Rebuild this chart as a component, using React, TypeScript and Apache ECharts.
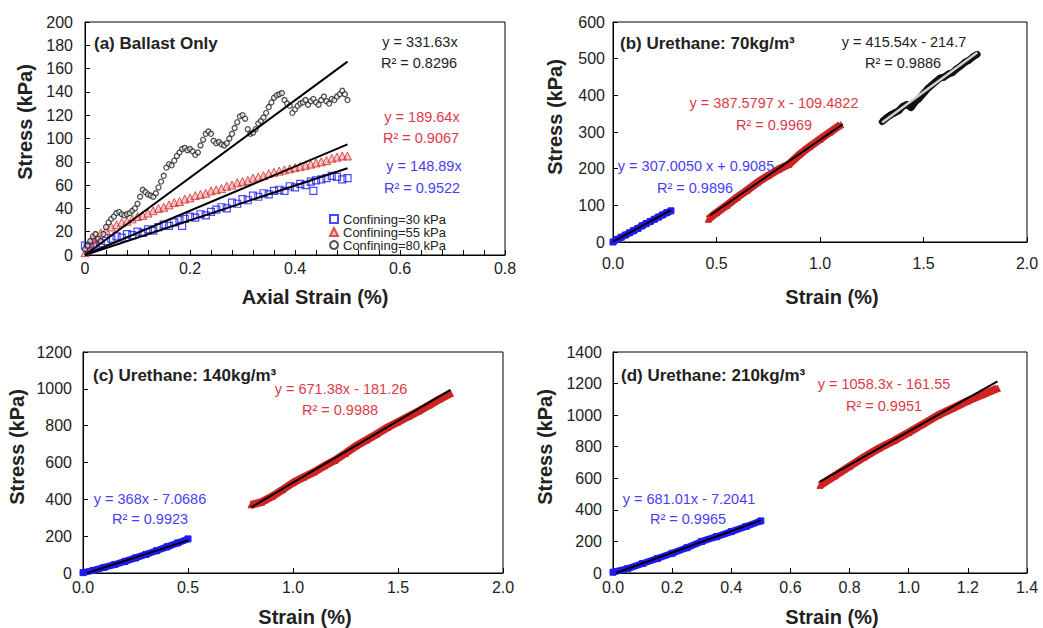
import React, { useEffect, useRef } from "react";
import * as echarts from "echarts";

const FONT = '"Liberation Sans", Arial, Helvetica, sans-serif';

// ---------- (a) Ballast only ----------
const aTicksX = [0, 0.2, 0.4, 0.6, 0.8];
const aBlue30: [number, number][] = [
  [0, 8], [0.005, 6], [0.01, 7], [0.015, 9], [0.02, 8], [0.03, 10], [0.04, 12], [0.05, 14], [0.06, 16], [0.07, 15],
  [0.08, 18], [0.09, 17], [0.1, 20], [0.11, 19], [0.12, 22], [0.13, 21], [0.14, 24], [0.15, 26], [0.16, 25], [0.17, 28],
  [0.18, 30], [0.185, 25], [0.19, 31], [0.2, 33], [0.21, 32], [0.22, 35], [0.23, 34], [0.24, 37], [0.25, 39], [0.26, 41],
  [0.27, 40], [0.28, 45], [0.29, 44], [0.3, 48], [0.31, 47], [0.32, 51], [0.33, 50], [0.34, 53], [0.35, 52], [0.36, 55],
  [0.37, 56], [0.38, 55], [0.39, 59], [0.4, 58], [0.41, 61], [0.42, 60], [0.43, 63], [0.435, 55], [0.44, 64], [0.45, 65],
  [0.46, 66], [0.47, 68], [0.48, 67], [0.49, 65], [0.5, 66],
];
const aRed55: [number, number][] = [
  [0, 2], [0.005, 6], [0.01, 10], [0.015, 14], [0.02, 17], [0.025, 13], [0.03, 19], [0.04, 21], [0.05, 24], [0.06, 26],
  [0.07, 28], [0.08, 29], [0.09, 31], [0.1, 33], [0.11, 34], [0.12, 36], [0.13, 38], [0.14, 40], [0.15, 41], [0.16, 43],
  [0.17, 45], [0.18, 46], [0.19, 48], [0.2, 49], [0.21, 51], [0.22, 52], [0.23, 53], [0.24, 55], [0.25, 56], [0.26, 57],
  [0.27, 59], [0.28, 60], [0.29, 62], [0.3, 63], [0.31, 64], [0.32, 66], [0.33, 67], [0.34, 68], [0.35, 70], [0.36, 71],
  [0.37, 72], [0.38, 73], [0.39, 74], [0.4, 75], [0.41, 76], [0.42, 77], [0.43, 78], [0.44, 79], [0.45, 80], [0.46, 81],
  [0.47, 83], [0.48, 84], [0.49, 85], [0.5, 85],
];
const aBlack80: [number, number][] = [
  [0, 5], [0.005, 8], [0.01, 12], [0.015, 16], [0.02, 18], [0.025, 14], [0.03, 12], [0.035, 18], [0.04, 24], [0.045, 28],
  [0.05, 31], [0.055, 33], [0.06, 36], [0.065, 37], [0.07, 35], [0.075, 34], [0.08, 35], [0.085, 36], [0.09, 38], [0.095, 40],
  [0.1, 44], [0.105, 50], [0.11, 56], [0.115, 54], [0.12, 52], [0.125, 51], [0.13, 50], [0.135, 53], [0.14, 58], [0.145, 63],
  [0.15, 68], [0.155, 75], [0.16, 78], [0.165, 77], [0.17, 81], [0.175, 85], [0.18, 88], [0.185, 91], [0.19, 92], [0.195, 90],
  [0.2, 91], [0.205, 89], [0.21, 86], [0.215, 88], [0.22, 94], [0.225, 99], [0.23, 104], [0.235, 106], [0.24, 104], [0.245, 98],
  [0.25, 96], [0.255, 97], [0.26, 95], [0.265, 94], [0.27, 96], [0.275, 100], [0.28, 104], [0.285, 109], [0.29, 114], [0.295, 119],
  [0.3, 120], [0.305, 117], [0.31, 108], [0.315, 104], [0.32, 105], [0.325, 108], [0.33, 113], [0.335, 115], [0.34, 118], [0.345, 122],
  [0.35, 127], [0.355, 131], [0.36, 135], [0.365, 137], [0.37, 138], [0.375, 139], [0.38, 133], [0.385, 130], [0.39, 128], [0.395, 122],
  [0.4, 125], [0.405, 128], [0.41, 130], [0.415, 131], [0.42, 133], [0.425, 129], [0.43, 132], [0.435, 134], [0.44, 131], [0.445, 129],
  [0.45, 133], [0.455, 136], [0.46, 132], [0.465, 130], [0.47, 134], [0.475, 133], [0.48, 136], [0.485, 138], [0.49, 141], [0.495, 138],
  [0.5, 133],
];
const aFitBlack: [number, number][] = [[0, 0], [0.5, 166]];
const aFitRed: [number, number][] = [[0, 0], [0.5, 95]];
const aFitBlue: [number, number][] = [[0, 0], [0.5, 74.5]];
const aLegend = ["Confining=30 kPa", "Confining=55 kPa", "Confining=80 kPa"];

// ---------- (b) Urethane 70 ----------
const bBlue: [number, number][] = [
  [0, 0], [0.02, 7], [0.04, 13], [0.06, 19], [0.08, 25], [0.1, 31], [0.12, 37], [0.14, 44], [0.16, 50], [0.18, 56],
  [0.2, 62], [0.22, 68], [0.24, 74], [0.26, 80], [0.28, 85],
];
const bRed: [number, number][] = [
  [0.46, 62], [0.5, 80], [0.55, 100], [0.6, 122], [0.65, 142], [0.7, 163], [0.75, 181], [0.8, 198], [0.85, 212],
  [0.9, 238], [0.95, 260], [1.0, 280], [1.05, 300], [1.1, 320],
];
const bBlack: [number, number][] = [
  [1.3, 328], [1.32, 338], [1.34, 346], [1.36, 352], [1.38, 358], [1.4, 370], [1.42, 375], [1.44, 366], [1.46, 382],
  [1.48, 392], [1.5, 405], [1.52, 418], [1.54, 428], [1.56, 438], [1.58, 447], [1.6, 450], [1.62, 458], [1.64, 462],
  [1.66, 472], [1.68, 480], [1.7, 490], [1.72, 496], [1.74, 505], [1.76, 512],
];
const bFitBlue: [number, number][] = [[0, 1], [0.28, 87]];
const bFitRed: [number, number][] = [[0.47, 73], [1.11, 321]];
const bFitBlack: [number, number][] = [[1.3, 326], [1.76, 517]];

// ---------- (c) Urethane 140 ----------
const cBlue: [number, number][] = [
  [0, 2], [0.05, 14], [0.1, 30], [0.15, 46], [0.2, 63], [0.25, 82], [0.3, 101], [0.35, 121], [0.4, 142], [0.45, 163], [0.5, 185],
];
const cRed: [number, number][] = [
  [0.8, 370], [0.85, 385], [0.9, 415], [0.95, 452], [1.0, 490], [1.05, 520], [1.1, 548], [1.15, 582], [1.2, 612],
  [1.25, 650], [1.3, 690], [1.35, 722], [1.4, 755], [1.45, 790], [1.5, 820], [1.55, 850], [1.6, 880], [1.65, 912],
  [1.7, 945], [1.75, 975],
];
const cFitBlue: [number, number][] = [[0.02, 0], [0.5, 177]];
const cFitRed: [number, number][] = [[0.8, 356], [1.75, 994]];

// ---------- (d) Urethane 210 ----------
const dBlue: [number, number][] = [
  [0, 5], [0.05, 28], [0.1, 60], [0.15, 92], [0.2, 125], [0.25, 160], [0.3, 200], [0.35, 230], [0.4, 262], [0.45, 295], [0.5, 330],
];
const dRed: [number, number][] = [
  [0.7, 555], [0.75, 615], [0.8, 675], [0.85, 735], [0.9, 790], [0.95, 838], [1.0, 890], [1.05, 945], [1.1, 1000],
  [1.15, 1045], [1.2, 1090], [1.25, 1130], [1.3, 1170],
];
const dFitBlue: [number, number][] = [[0.01, 0], [0.5, 333]];
const dFitRed: [number, number][] = [[0.7, 579], [1.3, 1214]];

const BLUE = "#1f1af0";
const RED = "#cf2323";
const BLACK = "#111111";
const TXT = "#222222";
const TXT_RED = "#dc3a4c";
const TXT_BLUE = "#4a3ef2";

function xAxis(gi: number, max: number, interval: number, margin: number, fmt: (v: number) => string, minor = false): any {
  return {
    type: "value", gridIndex: gi, min: 0, max, interval,
    axisLine: { show: true, onZero: false, lineStyle: { color: "#000", width: 1 } },
    axisTick: { show: true, inside: true, length: 5, lineStyle: { color: "#000" } },
    minorTick: minor ? { show: true, splitNumber: 5, length: 5, lineStyle: { color: "#000" } } : { show: false },
    splitLine: { show: false },
    axisLabel: { color: TXT, fontSize: 16, fontFamily: FONT, margin, formatter: fmt },
  };
}
function yAxis(gi: number, max: number, interval: number, margin: number): any {
  return {
    type: "value", gridIndex: gi, min: 0, max, interval,
    axisLine: { show: true, onZero: false, lineStyle: { color: "#000", width: 1 } },
    axisTick: { show: true, inside: true, length: 5, lineStyle: { color: "#000" } },
    splitLine: { show: false },
    axisLabel: { color: TXT, fontSize: 16, fontFamily: FONT, margin, formatter: (v: number) => String(v) },
  };
}
function band(data: [number, number][], gi: number, color: string, symbol: string, size: number, width = 7): any {
  return {
    type: "line", xAxisIndex: gi, yAxisIndex: gi, data, symbol, symbolSize: size, showSymbol: true,
    lineStyle: { color, width }, itemStyle: { color, borderColor: color }, z: 2, silent: true,
  };
}
function fit(data: [number, number][], gi: number, color: string, width = 2): any {
  return {
    type: "line", xAxisIndex: gi, yAxisIndex: gi, data, symbol: "none",
    lineStyle: { color, width }, z: 4, silent: true,
  };
}
function txt(text: string, x: number, y: number, color: string, size: number, opts: any = {}): any {
  return {
    type: "text", x, y, rotation: opts.rotation || 0, z: 10,
    style: {
      text, fill: color, fontSize: size, fontFamily: FONT, fontWeight: opts.bold ? "bold" : "normal",
      textAlign: opts.align || "center", textVerticalAlign: "middle",
    },
  };
}

const f1 = (v: number) => v.toFixed(1);
const fa = (v: number) => (v === 0 ? "0" : String(Math.round(v * 10) / 10));

export default function App() {
  const ref = useRef<HTMLDivElement>(null);
  useEffect(() => {
    if (!ref.current) return;
    const chart = echarts.init(ref.current, null, { renderer: "svg" });
    const gridBase = { show: true, borderColor: "#000", borderWidth: 1, backgroundColor: "transparent", containLabel: false };
    const option: any = {
      animation: false,
      backgroundColor: "#fff",
      grid: [
        { ...gridBase, left: 85, top: 22, width: 420, height: 233 },
        { ...gridBase, left: 613, top: 22, width: 414, height: 220 },
        { ...gridBase, left: 83, top: 352, width: 420, height: 221 },
        { ...gridBase, left: 613, top: 352, width: 414, height: 221 },
      ],
      xAxis: [
        xAxis(0, aTicksX[aTicksX.length - 1], 0.2, 5, fa, true),
        xAxis(1, 2, 0.5, 13, f1),
        xAxis(2, 2, 0.5, 6, f1),
        xAxis(3, 1.4, 0.2, 6, f1),
      ],
      yAxis: [yAxis(0, 200, 20, 12), yAxis(1, 600, 100, 8), yAxis(2, 1200, 200, 11), yAxis(3, 1400, 200, 11)],
      legend: {
        data: aLegend, orient: "vertical", left: 329, top: 212.5, padding: 0, itemWidth: 8, itemHeight: 8, itemGap: 0,
        itemTextGap: 10, textStyle: { fontSize: 13, lineHeight: 13, fontFamily: FONT, color: TXT }, selectedMode: false,
      },
      series: [
        {
          name: aLegend[0], type: "scatter", xAxisIndex: 0, yAxisIndex: 0, data: aBlue30, symbol: "rect", symbolSize: 7,
          itemStyle: { color: "rgba(255,255,255,0)", borderColor: BLUE, borderWidth: 1.2 }, z: 2,
        },
        {
          name: aLegend[1], type: "scatter", xAxisIndex: 0, yAxisIndex: 0, data: aRed55, symbol: "triangle", symbolSize: 8,
          itemStyle: { color: "rgba(230,90,90,0.45)", borderColor: "#d42a2a", borderWidth: 1 }, z: 2,
        },
        {
          name: aLegend[2], type: "scatter", xAxisIndex: 0, yAxisIndex: 0, data: aBlack80, symbol: "circle", symbolSize: 5,
          itemStyle: { color: "rgba(255,255,255,0.7)", borderColor: "#222", borderWidth: 1.3 }, z: 2,
        },
        fit(aFitBlack, 0, "#000"),
        fit(aFitRed, 0, "#000"),
        fit(aFitBlue, 0, "#000"),

        band(bBlue, 1, BLUE, "rect", 6),
        band(bRed, 1, RED, "triangle", 6, 8),
        band(bBlack, 1, BLACK, "circle", 6),
        fit(bFitBlue, 1, "#000"),
        fit(bFitRed, 1, "#000"),
        fit(bFitBlack, 1, "#d0d0d0", 2.5),

        band(cBlue, 2, BLUE, "rect", 6),
        band(cRed, 2, RED, "triangle", 6, 8),
        fit(cFitBlue, 2, "#000"),
        fit(cFitRed, 2, "#000"),

        band(dBlue, 3, BLUE, "rect", 6),
        band(dRed, 3, RED, "triangle", 6, 8),
        fit(dFitBlue, 3, "#000"),
        fit(dFitRed, 3, "#000"),
      ],
      graphic: [
        // axis names
        txt("Axial Strain (%)", 315, 297, TXT, 20, { bold: true }),
        txt("Stress (kPa)", 25, 122, TXT, 20, { bold: true, rotation: Math.PI / 2 }),
        txt("Strain (%)", 832, 297, TXT, 20, { bold: true }),
        txt("Stress (kPa)", 555, 117, TXT, 20, { bold: true, rotation: Math.PI / 2 }),
        txt("Strain (%)", 305, 617, TXT, 20, { bold: true }),
        txt("Stress (kPa)", 17, 447, TXT, 20, { bold: true, rotation: Math.PI / 2 }),
        txt("Strain (%)", 832, 617, TXT, 20, { bold: true }),
        txt("Stress (kPa)", 545, 447, TXT, 20, { bold: true, rotation: Math.PI / 2 }),
        // titles
        txt("(a) Ballast Only", 94, 43, TXT, 17, { bold: true, align: "left" }),
        txt("(b) Urethane: 70kg/m³", 620, 43, TXT, 17, { bold: true, align: "left" }),
        txt("(c) Urethane: 140kg/m³", 93, 375, TXT, 17, { bold: true, align: "left" }),
        txt("(d) Urethane: 210kg/m³", 621, 375, TXT, 17, { bold: true, align: "left" }),
        // (a) equations
        txt("y = 331.63x", 420, 42, TXT, 14.5),
        txt("R² = 0.8296", 419, 63, TXT, 14.5),
        txt("y = 189.64x", 422, 117, TXT_RED, 14.5),
        txt("R² = 0.9067", 421, 138, TXT_RED, 14.5),
        txt("y = 148.89x", 424, 166, TXT_BLUE, 14.5),
        txt("R² = 0.9522", 422, 188, TXT_BLUE, 14.5),
        // (b)
        txt("y = 415.54x - 214.7", 904, 42, TXT, 14.5),
        txt("R² = 0.9886", 903, 63, TXT, 14.5),
        txt("y = 387.5797 x - 109.4822", 774, 103, TXT_RED, 14.5),
        txt("R² = 0.9969", 774, 125, TXT_RED, 14.5),
        txt("y = 307.0050 x + 0.9085", 696, 166, TXT_BLUE, 14.5),
        txt("R² = 0.9896", 695, 188, TXT_BLUE, 14.5),
        // (c)
        txt("y = 671.38x - 181.26", 341, 389, TXT_RED, 14.5),
        txt("R² = 0.9988", 340, 410, TXT_RED, 14.5),
        txt("y = 368x - 7.0686", 150, 499, TXT_BLUE, 14.5),
        txt("R² = 0.9923", 150, 519, TXT_BLUE, 14.5),
        // (d)
        txt("y = 1058.3x - 161.55", 884, 384, TXT_RED, 14.5),
        txt("R² = 0.9951", 884, 406, TXT_RED, 14.5),
        txt("y = 681.01x - 7.2041", 689, 499, TXT_BLUE, 14.5),
        txt("R² = 0.9965", 688, 519, TXT_BLUE, 14.5),
      ],
    };
    chart.setOption(option);
    return () => chart.dispose();
  }, []);
  return (
    <div
      ref={ref}
      style={{ position: "absolute", left: 0, top: 0, width: 1043, height: 628, background: "#fff" }}
    />
  );
}
